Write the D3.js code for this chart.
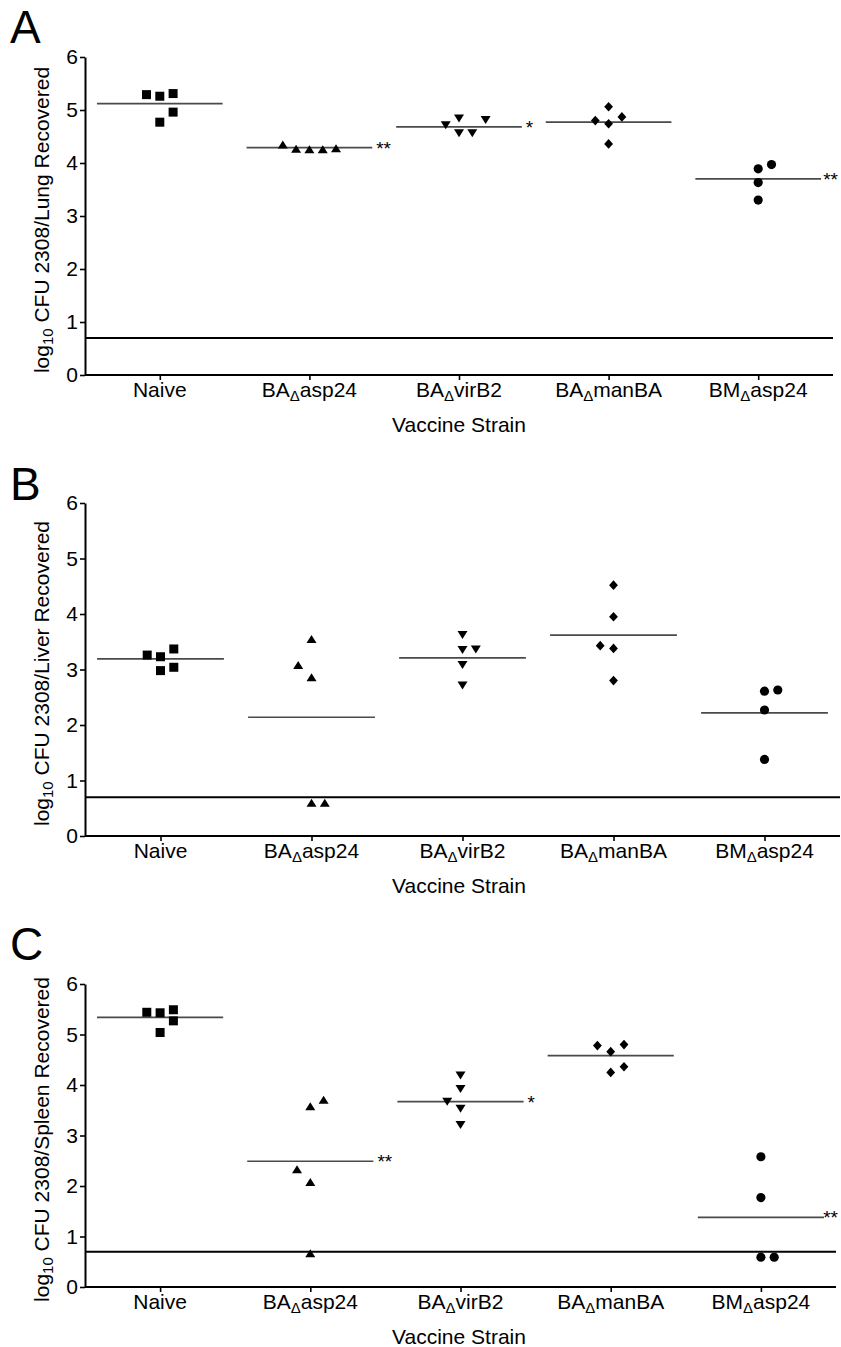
<!DOCTYPE html>
<html>
<head>
<meta charset="utf-8">
<script src="https://cdn.jsdelivr.net/npm/d3@7"></script>
<style>
  html, body { margin: 0; padding: 0; background: #fff; }
  svg { display: block; }
  text { font-family: "Liberation Sans", Arial, Helvetica, sans-serif; fill: #000; }
</style>
</head>
<body>
<svg id="chart" width="841" height="1347"></svg>
<script>
// ---------- DATA ----------
const categories = ["Naive", "BA asp24", "BA virB2", "BA manBA", "BM asp24"];
const tickPrefix = ["Naive", "BA", "BA", "BA", "BM"];
const tickSuffix = ["", "asp24", "virB2", "manBA", "asp24"];
const yTicks = [0, 1, 2, 3, 4, 5, 6];
const organs = ["Lung", "Liver", "Spleen"];
const panelLetters = ["A", "B", "C"];
const xTitle = "Vaccine Strain";
const detectionLimit = 0.7;

// Panel A (lung) log10 CFU per mouse
const lungNaive   = [5.29, 5.26, 5.31, 4.96, 4.77];
const lungAsp24   = [4.35, 4.27, 4.26, 4.26, 4.28];
const lungVirB2   = [4.71, 4.84, 4.81, 4.56, 4.56];
const lungManBA   = [5.06, 4.80, 4.74, 4.87, 4.36];
const lungBMasp24 = [3.89, 3.97, 3.63, 3.30];
const lungCenter  = [5.12, 4.29, 4.68, 4.77, 3.70];
const lungSig     = ["", "**", "*", "", "**"];

// Panel B (liver)
const liverNaive   = [3.26, 3.23, 3.37, 2.98, 3.04];
const liverAsp24   = [3.55, 3.08, 2.86, 0.60, 0.60];
const liverVirB2   = [3.62, 3.35, 3.36, 3.08, 2.71];
const liverManBA   = [4.52, 3.95, 3.43, 3.38, 2.80];
const liverBMasp24 = [2.61, 2.63, 2.27, 1.38];
const liverCenter  = [3.19, 2.14, 3.21, 3.62, 2.22];
const liverSig     = ["", "", "", "", ""];

// Panel C (spleen)
const spleenNaive   = [5.44, 5.43, 5.49, 5.27, 5.04];
const spleenAsp24   = [3.58, 3.71, 2.33, 2.08, 0.67];
const spleenVirB2   = [4.19, 3.92, 3.67, 3.53, 3.21];
const spleenManBA   = [4.78, 4.66, 4.80, 4.25, 4.36];
const spleenBMasp24 = [2.58, 1.77, 0.59, 0.59];
const spleenCenter  = [5.34, 2.49, 3.67, 4.58, 1.38];
const spleenSig     = ["", "**", "*", "", "**"];

// ---------- LAYOUT (scatter column slots, panel geometry) ----------
const lungSlots   = [[-1,0,1,1,0], [-2,-1,0,1,2], [-1,0,2,0,1], [0,-1,0,1,0], [0,1,0,0]];
const liverSlots  = [[-1,0,1,0,1], [0,-1,0,0,1], [0,0,1,0,0], [0,0,-1,0,0], [0,1,0,0]];
const spleenSlots = [[-1,0,1,1,0], [0,1,-1,0,0], [0,0,-1,0,0], [-1,0,1,0,1], [0,0,0,1]];

const panels = [
  { groups: [lungNaive, lungAsp24, lungVirB2, lungManBA, lungBMasp24], center: lungCenter, sig: lungSig, slots: lungSlots,
    top: 57, bottom: 375, left: 85, right: 833, letterY: 43 },
  { groups: [liverNaive, liverAsp24, liverVirB2, liverManBA, liverBMasp24], center: liverCenter, sig: liverSig, slots: liverSlots,
    top: 503, bottom: 836, left: 85, right: 840, letterY: 500 },
  { groups: [spleenNaive, spleenAsp24, spleenVirB2, spleenManBA, spleenBMasp24], center: spleenCenter, sig: spleenSig, slots: spleenSlots,
    top: 984, bottom: 1287, left: 85, right: 836, letterY: 960 }
];

const svg = d3.select("#chart");
const W = 841;
const FS = 21;
const slotW = 13.3;

// symbol paths centered on their bounding box
const symbols = [
  () => "M-4.5,-4.5H4.5V4.5H-4.5Z",               // square
  () => "M0,-4L5,4H-5Z",                           // up triangle
  () => "M-5,-4H5L0,4Z",                           // down triangle
  () => "M0,-4.8L4.4,0L0,4.8L-4.4,0Z",             // diamond
  () => d3.symbol(d3.symbolCircle, 66)()           // circle
];

panels.forEach((p, pi) => {
  const g = svg.append("g");
  const x = d3.scalePoint().domain(categories).range([p.left, p.right]).padding(0.5);
  const bw = x.step();
  const y = d3.scaleLinear().domain([0, 6]).range([p.bottom, p.top]);

  // panel letter
  g.append("text").attr("x", 10).attr("y", p.letterY)
    .attr("font-size", 46).text(panelLetters[pi]);

  // detection limit line
  g.append("line")
    .attr("x1", p.left).attr("x2", p.right)
    .attr("y1", y(detectionLimit)).attr("y2", y(detectionLimit))
    .attr("stroke", "#000").attr("stroke-width", 2);

  // y axis
  const ya = g.append("g").attr("transform", `translate(${p.left},0)`)
    .call(d3.axisLeft(y).tickValues(yTicks).tickFormat(d3.format("d")).tickSize(5).tickSizeOuter(0).tickPadding(2));
  ya.select(".domain").attr("stroke", "#000").attr("stroke-width", 2);
  ya.selectAll(".tick line").attr("stroke", "#000").attr("stroke-width", 1.6);
  ya.selectAll(".tick text").attr("font-size", FS).attr("font-family", "Liberation Sans, Arial, sans-serif").attr("fill", "#000");

  // x axis
  const xa = g.append("g").attr("transform", `translate(0,${p.bottom})`)
    .call(d3.axisBottom(x).tickSize(5).tickSizeOuter(0).tickFormat(""));
  xa.select(".domain").attr("d", `M${p.left},0H${p.right}`).attr("stroke", "#000").attr("stroke-width", 2);
  xa.selectAll(".tick line").attr("stroke", "#000").attr("stroke-width", 1.6);

  // x tick labels with subscript delta
  categories.forEach((c, i) => {
    const t = g.append("text").attr("x", x(c)).attr("y", p.bottom + 22)
      .attr("text-anchor", "middle").attr("font-size", FS);
    t.append("tspan").text(tickPrefix[i]);
    if (tickSuffix[i]) {
      t.append("tspan").attr("font-size", 15).attr("dy", 4).text("\u0394");
      t.append("tspan").attr("dy", -4).text(tickSuffix[i]);
    }
  });

  // x title
  g.append("text").attr("x", (p.left + 833) / 2).attr("y", p.bottom + 57)
    .attr("text-anchor", "middle").attr("font-size", FS).text(xTitle);

  // y title
  const cy = (p.top + p.bottom) / 2 + 4;
  const yt = g.append("text").attr("transform", `translate(49,${cy}) rotate(-90)`)
    .attr("text-anchor", "middle").attr("font-size", FS);
  yt.append("tspan").text("log");
  yt.append("tspan").attr("font-size", 15).attr("dy", 4).text("10");
  yt.append("tspan").attr("dy", -4).text(` CFU 2308/${organs[pi]} Recovered`);

  // center lines + significance
  categories.forEach((c, i) => {
    const cx = x(c), half = bw * 0.42;
    g.append("line")
      .attr("x1", cx - half).attr("x2", cx + half)
      .attr("y1", y(p.center[i])).attr("y2", y(p.center[i]))
      .attr("stroke", "#4a4a4a").attr("stroke-width", 1.7);
    if (p.sig[i]) {
      const st = g.append("text").attr("x", cx + half + 4).attr("y", y(p.center[i]) + 7)
        .attr("font-size", 19).text(p.sig[i]);
      const len = st.node().getComputedTextLength();
      const maxX = W - 3 - len;
      if (cx + half + 4 > maxX) st.attr("x", maxX);
    }
  });

  // points
  p.groups.forEach((vals, gi) => {
    const cx = x(categories[gi]);
    g.append("g").selectAll("path").data(vals).join("path")
      .attr("d", symbols[gi]())
      .attr("transform", (v, j) => `translate(${cx + p.slots[gi][j] * slotW},${y(v)})`)
      .attr("fill", "#000");
  });
});
</script>
</body>
</html>
